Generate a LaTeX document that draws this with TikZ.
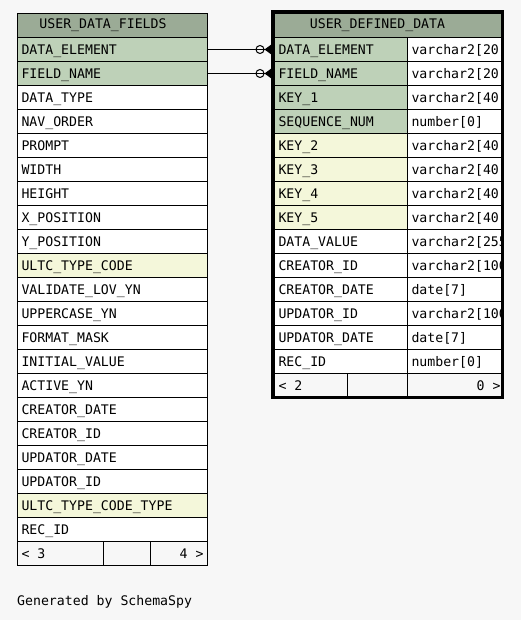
\documentclass[tikz,border=0pt]{standalone}
\usepackage{fontspec}
\setmonofont{DejaVu Sans Mono}
\usetikzlibrary{arrows.meta,positioning}
\definecolor{bgcol}{HTML}{F7F7F7}
\definecolor{headcol}{HTML}{9BAB96}
\definecolor{pkcol}{HTML}{BED1B8}
\definecolor{idxcol}{HTML}{F4F7DA}
\newcommand{\gap}{\hspace*{0.602em}}
\tikzset{%
	cell/.style     = {draw, line width=1pt, rectangle, anchor=north west,
		minimum height=24pt, inner ysep=0pt, inner xsep=4pt,
		text height=9.6pt, text depth=0pt, align=left,
		font=\ttfamily\fontsize{13.2}{13.2}\selectfont},
	lcell/.style    = {cell, minimum width=190pt, text width=182pt}, % left table
	ncell/.style    = {cell, minimum width=133pt, text width=125pt}, % column name
	tcell/.style    = {cell, minimum width=95pt, text width=87pt}, % column type
	title/.style    = {inner sep=0pt, font=\ttfamily\fontsize{13.2}{13.2}\selectfont},
	fk/.style       = {line width=1pt, shorten >=2.5pt,
		-{Circle[open,length=9pt,width=9pt] Triangle[reversed,length=7pt,width=10pt]}}
}

\begin{document}
\begin{tikzpicture}[x=1pt, y=-1pt]
	\fill[bgcol] (0,0) rectangle (521,620);
	\useasboundingbox (0,0) rectangle (521,620);

	% USER_DATA_FIELDS
	\node[lcell, fill=headcol] (fieldshead) at (17,13) {};
	\node[title, xshift=-9.5pt] (fieldstitle) at (fieldshead) {USER\_DATA\_FIELDS};
	\foreach \name/\col [count=\i] in {DATA\_ELEMENT/pkcol, FIELD\_NAME/pkcol,
		DATA\_TYPE/white, NAV\_ORDER/white, PROMPT/white, WIDTH/white,
		HEIGHT/white, X\_POSITION/white, Y\_POSITION/white,
		ULTC\_TYPE\_CODE/idxcol, VALIDATE\_LOV\_YN/white, UPPERCASE\_YN/white,
		FORMAT\_MASK/white, INITIAL\_VALUE/white, ACTIVE\_YN/white,
		CREATOR\_DATE/white, CREATOR\_ID/white, UPDATOR\_DATE/white,
		UPDATOR\_ID/white, ULTC\_TYPE\_CODE\_TYPE/idxcol, REC\_ID/white}
		\node[lcell, fill=\col] (l\i) at (17,13+24*\i) {\name};
	\node[cell, fill=bgcol, minimum width=86pt, text width=78pt] (lfoot1) at (17,541) {<\gap3};
	\node[cell, fill=bgcol, minimum width=47pt, text width=39pt] (lfoot2) at (103,541) {};
	\node[cell, fill=bgcol, minimum width=57pt, text width=49pt, align=right] (lfoot3) at (150,541) {4\gap>};

	% USER_DEFINED_DATA
	\begin{scope}
		\clip (274,13) rectangle (502,398);
		\node[cell, fill=headcol, minimum width=228pt, text width=220pt] (datahead) at (274,13) {};
		\node[title, xshift=-11pt] (datatitle) at (datahead) {USER\_DEFINED\_DATA};
		\foreach \name/\type/\col [count=\i] in {DATA\_ELEMENT/varchar2[20]/pkcol,
			FIELD\_NAME/varchar2[20]/pkcol, KEY\_1/varchar2[40]/pkcol,
			SEQUENCE\_NUM/number[0]/pkcol, KEY\_2/varchar2[40]/idxcol,
			KEY\_3/varchar2[40]/idxcol, KEY\_4/varchar2[40]/idxcol,
			KEY\_5/varchar2[40]/idxcol, DATA\_VALUE/varchar2[255]/white,
			CREATOR\_ID/varchar2[100]/white, CREATOR\_DATE/date[7]/white,
			UPDATOR\_ID/varchar2[100]/white, UPDATOR\_DATE/date[7]/white,
			REC\_ID/number[0]/white}
		{
			\node[ncell, fill=\col] (r\i) at (274,13+24*\i) {\name};
			\node[tcell, fill=white] (t\i) at (407,13+24*\i) {\type};
		}
		\node[cell, fill=bgcol, minimum width=73pt, text width=65pt] (rfoot1) at (274,373) {<\gap2};
		\node[cell, fill=bgcol, minimum width=60pt, text width=52pt] (rfoot2) at (347,373) {};
		\node[cell, fill=bgcol, minimum width=95pt, text width=89pt, align=right] (rfoot3) at (407,373) {0\gap>};
	\end{scope}
	\draw[line width=3.5pt] (272.5,11.5) rectangle (502.5,397.5);

	\draw[fk] (l1.east) -- (r1.west);
	\draw[fk] (l2.east) -- (r2.west);

	\node[title, anchor=base west] (generated) at (17,605.5) {Generated by SchemaSpy};
\end{tikzpicture}
\end{document}
